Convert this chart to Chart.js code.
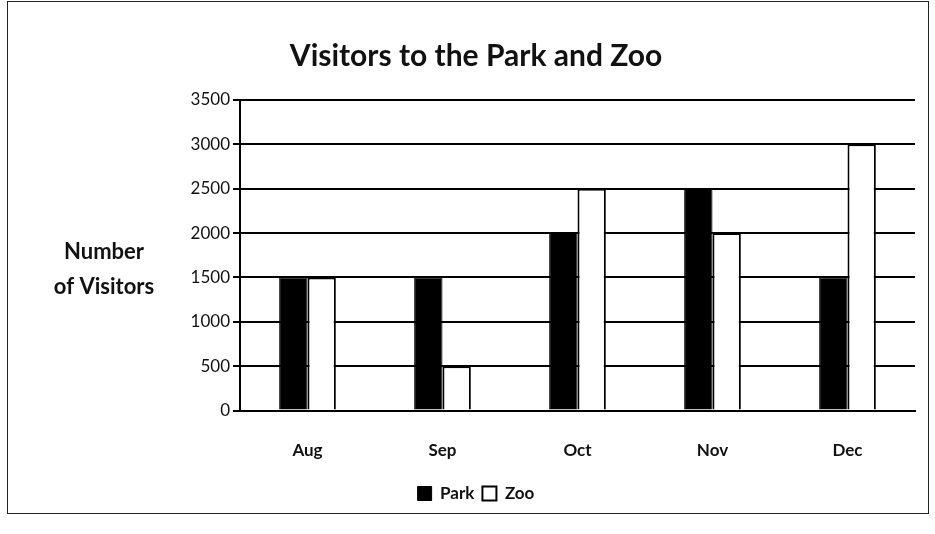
<!DOCTYPE html>
<html>
<head>
<meta charset="utf-8">
<script src="https://cdn.jsdelivr.net/npm/chart.js@4"></script>
<style>
  html, body { margin: 0; padding: 0; background: #fff; }
  .chart-container { position: relative; width: 935px; height: 534px; }
  .frame { position: absolute; left: 7px; top: 1px; width: 920px; height: 511px; border: 1.5px solid #222; pointer-events: none; }
</style>
</head>
<body>
<div class="chart-container">
  <canvas id="chart" width="935" height="534"></canvas>
  <div class="frame"></div>
</div>
<script>
const months = ['Aug', 'Sep', 'Oct', 'Nov', 'Dec'];
const parkVisitors = [1500, 1500, 2000, 2500, 1500];
const zooVisitors = [1500, 500, 2500, 2000, 3000];
const yAxisLines = ['Number', 'of Visitors'];

const fontFamily = 'Lato, "Open Sans", sans-serif';

// horizontal y axis title, left of the tick labels
const sideTitle = {
  id: 'sideTitle',
  afterDraw(chart) {
    const ctx = chart.ctx;
    ctx.save();
    ctx.fillStyle = '#111';
    ctx.font = 'bold 22px ' + fontFamily;
    ctx.textAlign = 'center';
    ctx.textBaseline = 'middle';
    const x = 104;
    const y = chart.scales.y.getPixelForValue(1750);
    ctx.fillText(yAxisLines[0], x, y - 3);
    ctx.fillText(yAxisLines[1], x, y + 32);
    ctx.restore();
  }
};

new Chart(document.getElementById('chart'), {
  type: 'bar',
  data: {
    labels: months,
    datasets: [
      {
        label: 'Park',
        data: parkVisitors,
        backgroundColor: '#000',
        borderColor: '#000',
        borderWidth: 1,
        barPercentage: 1.0,
        categoryPercentage: 0.42
      },
      {
        label: 'Zoo',
        data: zooVisitors,
        backgroundColor: '#fff',
        borderColor: '#000',
        borderWidth: 2,
        barPercentage: 1.0,
        categoryPercentage: 0.42
      }
    ]
  },
  options: {
    responsive: false,
    animation: false,
    layout: { padding: { left: 37, right: 20, top: 14, bottom: 22 } },
    plugins: {
      title: {
        display: true,
        text: 'Visitors to the Park and Zoo',
        color: '#111',
        font: { family: fontFamily, size: 30, weight: 'bold' },
        padding: { top: 24, bottom: 26 }
      },
      legend: {
        position: 'bottom',
        labels: {
          color: '#111',
          font: { family: fontFamily, size: 17, weight: 'bold' },
          boxWidth: 14,
          boxHeight: 14,
          padding: 8
        }
      },
      tooltip: { enabled: false }
    },
    scales: {
      x: {
        afterFit(scale) { scale.height -= 14; },
        grid: { display: false, drawTicks: false },
        border: { color: '#000', width: 2 },
        ticks: {
          color: '#111',
          font: { family: fontFamily, size: 17, weight: 'bold' },
          padding: 30
        }
      },
      y: {
        min: 0,
        max: 3500,
        afterFit(scale) { scale.width = 203; },
        grid: { color: '#000', lineWidth: 2, tickLength: 7 },
        border: { color: '#000', width: 2 },
        ticks: {
          stepSize: 500,
          color: '#111',
          font: { family: fontFamily, size: 17 },
          padding: 3,
          callback: (v) => String(v)
        }
      }
    }
  },
  plugins: [sideTitle]
});
</script>
</body>
</html>
